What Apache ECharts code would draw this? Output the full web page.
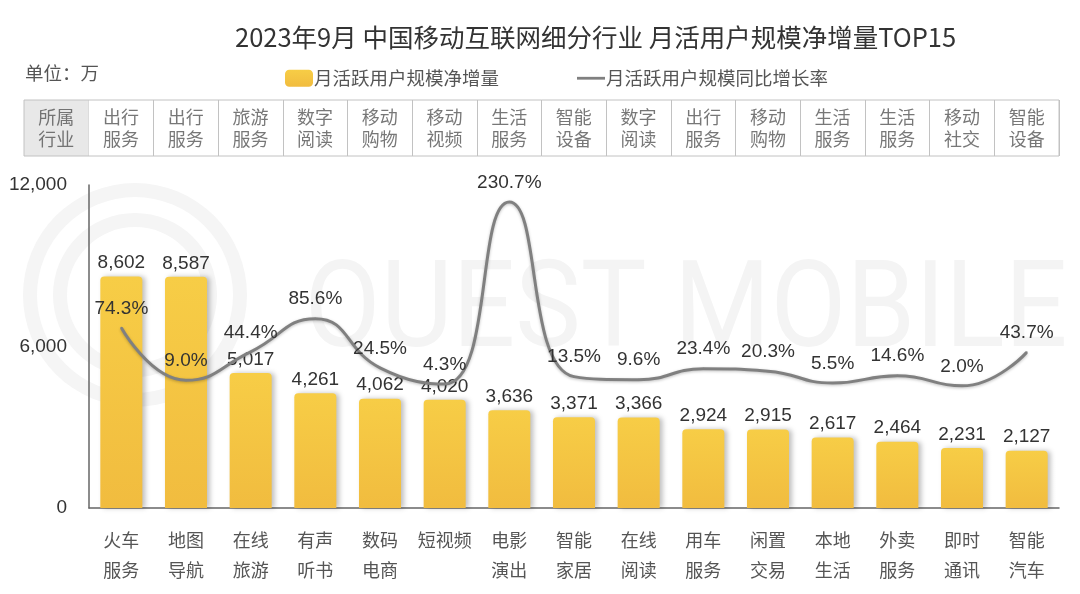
<!DOCTYPE html>
<html lang="zh">
<head>
    <meta charset="UTF-8">
    <title>2023年9月 中国移动互联网细分行业 月活用户规模净增量TOP15</title>
    <script src="https://cdn.jsdelivr.net/npm/echarts@6/dist/echarts.min.js"></script>
    <style>
        html, body { margin: 0; padding: 0; background: #fff; }
    </style>
</head>
<body>
    <div id="myChart" style="width: 1080px; height: 594px;"></div>
    <script>
        // 细分行业（x 轴）
        const categories = ['火车服务', '地图导航', '在线旅游', '有声听书', '数码电商', '短视频', '电影演出',
            '智能家居', '在线阅读', '用车服务', '闲置交易', '本地生活', '外卖服务', '即时通讯', '智能汽车'];
        // 所属行业（表格行）
        const industries = ['所属行业', '出行服务', '出行服务', '旅游服务', '数字阅读', '移动购物', '移动视频', '生活服务',
            '智能设备', '数字阅读', '出行服务', '移动购物', '生活服务', '生活服务', '移动社交', '智能设备'];
        // 月活跃用户规模净增量（万）
        const netGrowth = [8602, 8587, 5017, 4261, 4062, 4020, 3636, 3371, 3366, 2924, 2915, 2617, 2464, 2231, 2127];
        // 月活跃用户规模同比增长率（%）
        const yoyRate = [74.3, 9.0, 44.4, 85.6, 24.5, 4.3, 230.7, 13.5, 9.6, 23.4, 20.3, 5.5, 14.6, 2.0, 43.7];
        const yTicks = [0, 6000, 12000];

        const FONT = '"Noto Sans CJK SC", sans-serif';
        const NUM_FONT = '"Liberation Sans", "Noto Sans CJK SC", sans-serif';

        const twoLines = (s) => s.length > 3 ? s.slice(0, 2) + '\n' + s.slice(2) : s;

        const myChart = echarts.init(document.getElementById('myChart'));

        const option = {
            backgroundColor: '#fff',
            animation: false,
            textStyle: { fontFamily: FONT },
            title: {
                text: '2023年9月 中国移动互联网细分行业 月活用户规模净增量TOP15',
                left: 230,
                top: 20,
                textStyle: { fontSize: 25.5, fontWeight: 'normal', color: '#333', fontFamily: FONT }
            },
            legend: {
                top: 64,
                left: 280,
                itemGap: 78,
                itemWidth: 28,
                itemHeight: 17,
                textStyle: { fontSize: 18.5, color: '#555', fontFamily: FONT, padding: [0, 0, 0, -4] },
                data: [
                    { name: '月活跃用户规模净增量', icon: 'roundRect' },
                    { name: '月活跃用户规模同比增长率', icon: 'path://M0,0L30,0L30,3L0,3Z' }
                ]
            },
            graphic: [
                {
                    type: 'text', left: 25, top: 64, silent: true,
                    style: { text: '单位：万', font: '18.5px "Noto Sans CJK SC"', fill: '#555' }
                },
                {
                    type: 'ring', z: -10, silent: true,
                    shape: { cx: 135, cy: 295, r: 112, r0: 98 },
                    style: { fill: '#f5f5f5' }
                },
                {
                    type: 'ring', z: -10, silent: true,
                    shape: { cx: 135, cy: 295, r: 82, r0: 68 },
                    style: { fill: '#f5f5f5' }
                },
                {
                    type: 'text', z: -10, silent: true,
                    x: 305, y: 256, scaleX: 0.92,
                    style: {
                        text: 'QUEST MOBILE',
                        font: '400 120px Roboto',
                        fill: '#f4f4f4'
                    }
                }
            ],
            grid: [
                { left: 89, right: 21, top: 185, bottom: 86 },
                { left: 24, right: 21, top: 100, height: 56, show: true, borderColor: '#c2c2c2', borderWidth: 1, z: 1 }
            ],
            xAxis: [
                {
                    type: 'category',
                    gridIndex: 0,
                    data: categories,
                    axisLine: { lineStyle: { color: '#666', width: 1.5 } },
                    axisTick: { show: false },
                    axisLabel: {
                        interval: 0,
                        margin: 17,
                        fontSize: 18,
                        lineHeight: 30,
                        color: '#555',
                        fontFamily: FONT,
                        formatter: twoLines
                    }
                },
                {
                    type: 'category',
                    gridIndex: 1,
                    data: industries.map((d, i) => String(i)),
                    axisLine: { show: false },
                    axisTick: { show: false },
                    axisLabel: { show: false },
                    splitLine: { show: true, interval: 0, lineStyle: { color: '#c2c2c2', width: 1 } }
                }
            ],
            yAxis: [
                {
                    type: 'value',
                    gridIndex: 0,
                    min: yTicks[0],
                    max: yTicks[yTicks.length - 1],
                    interval: yTicks[1] - yTicks[0],
                    axisLine: { show: true, lineStyle: { color: '#666', width: 1.5 } },
                    axisTick: { show: false },
                    splitLine: { show: false },
                    axisLabel: {
                        margin: 22,
                        fontSize: 19,
                        color: '#333',
                        fontFamily: NUM_FONT,
                        formatter: (v) => v.toLocaleString('en-US')
                    }
                },
                {
                    type: 'value',
                    gridIndex: 0,
                    min: -150,
                    max: 252,
                    show: false,
                    splitLine: { show: false }
                },
                {
                    type: 'value',
                    gridIndex: 1,
                    min: 0,
                    max: 1,
                    show: false
                }
            ],
            series: [
                {
                    name: '月活跃用户规模净增量',
                    type: 'bar',
                    xAxisIndex: 0,
                    yAxisIndex: 0,
                    barWidth: '65%',
                    data: netGrowth,
                    itemStyle: {
                        borderRadius: [4, 4, 0, 0],
                        color: new echarts.graphic.LinearGradient(0, 0, 0, 1, [
                            { offset: 0, color: '#F7CD46' },
                            { offset: 1, color: '#F1BC3F' }
                        ]),
                        shadowColor: 'rgba(0,0,0,0.25)',
                        shadowBlur: 5,
                        shadowOffsetX: 3
                    },
                    label: {
                        show: true,
                        position: 'top',
                        distance: 4,
                        fontSize: 19,
                        color: '#333',
                        fontFamily: NUM_FONT,
                        formatter: (p) => p.value.toLocaleString('en-US')
                    },
                    z: 2
                },
                {
                    name: '月活跃用户规模同比增长率',
                    type: 'line',
                    xAxisIndex: 0,
                    yAxisIndex: 1,
                    data: yoyRate,
                    smooth: 0.5,
                    showSymbol: true,
                    symbol: 'circle',
                    symbolSize: 2,
                    itemStyle: { color: '#808080' },
                    lineStyle: {
                        color: '#808080',
                        width: 3,
                        shadowColor: 'rgba(0,0,0,0.25)',
                        shadowBlur: 3,
                        shadowOffsetY: 1
                    },
                    label: {
                        show: true,
                        position: 'top',
                        distance: 9,
                        fontSize: 19,
                        color: '#333',
                        fontFamily: NUM_FONT,
                        formatter: (p) => p.value.toFixed(1) + '%'
                    },
                    z: 3
                },
                {
                    // 表头灰色单元格
                    type: 'bar',
                    xAxisIndex: 1,
                    yAxisIndex: 2,
                    barWidth: '100%',
                    silent: true,
                    data: industries.map((d, i) => (i === 0 ? 1 : null)),
                    itemStyle: { color: '#e8e8e8' },
                    z: 0
                },
                {
                    // 表格文字
                    type: 'scatter',
                    xAxisIndex: 1,
                    yAxisIndex: 2,
                    symbolSize: 1,
                    itemStyle: { color: 'rgba(0,0,0,0)' },
                    silent: true,
                    data: industries.map((d, i) => [i, 0.5]),
                    label: {
                        show: true,
                        position: 'inside',
                        fontSize: 18,
                        lineHeight: 22,
                        color: '#555',
                        fontFamily: FONT,
                        formatter: (p) => twoLines(industries[p.dataIndex])
                    },
                    labelLayout: { hideOverlap: false },
                    z: 3
                }
            ]
        };
        myChart.setOption(option);
    </script>
</body>
</html>
